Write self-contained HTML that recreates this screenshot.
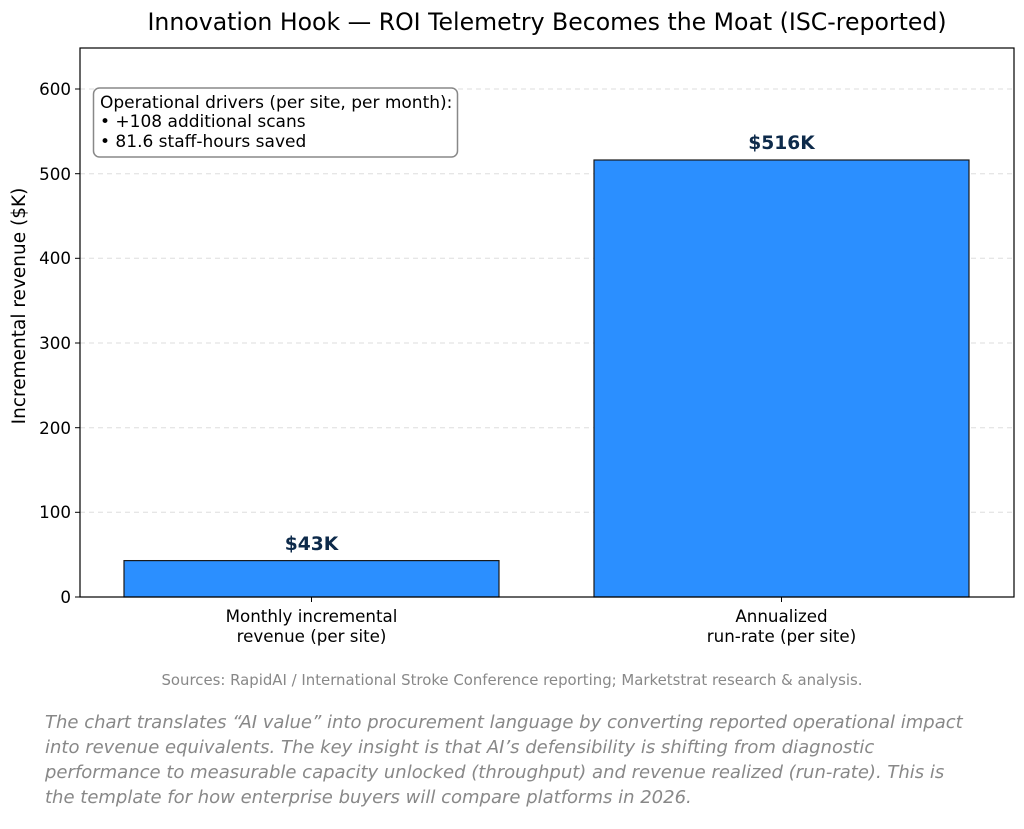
<!DOCTYPE html>
<html><head><meta charset="utf-8"><style>
body{margin:0;background:#fff;}
svg text{font-family:"DejaVu Sans","Liberation Sans",sans-serif;}
</style></head><body>
<svg width="1024" height="824" viewBox="0 0 1024 824" xmlns="http://www.w3.org/2000/svg">
<rect width="1024" height="824" fill="#fff"/>
<text x="547" y="30" font-size="23.6" text-anchor="middle" fill="#000">Innovation Hook — ROI Telemetry Becomes the Moat (ISC-reported)</text>
<g stroke="#ddd" stroke-dasharray="5,4" stroke-width="1">
<line x1="80" x2="1014" y1="512.3" y2="512.3"/>
<line x1="80" x2="1014" y1="427.7" y2="427.7"/>
<line x1="80" x2="1014" y1="343" y2="343"/>
<line x1="80" x2="1014" y1="258.3" y2="258.3"/>
<line x1="80" x2="1014" y1="173.7" y2="173.7"/>
<line x1="80" x2="1014" y1="89" y2="89"/>
</g>
<rect x="124" y="560.6" width="375" height="36.4" fill="#2b8fff" stroke="#1a1a1a" stroke-width="1.2"/>
<rect x="594" y="160" width="375" height="437" fill="#2b8fff" stroke="#1a1a1a" stroke-width="1.2"/>
<text x="311.5" y="550" font-size="18.7" font-weight="bold" text-anchor="middle" fill="#0d2a4a">$43K</text>
<text x="781.5" y="149" font-size="18.7" font-weight="bold" text-anchor="middle" fill="#0d2a4a">$516K</text>
<rect x="80" y="48" width="934" height="549" fill="none" stroke="#000" stroke-width="1.2"/>
<g font-size="16.7" text-anchor="end" fill="#000">
<text x="71" y="603">0</text><text x="71" y="518">100</text><text x="71" y="434">200</text>
<text x="71" y="349">300</text><text x="71" y="264">400</text><text x="71" y="180">500</text><text x="71" y="95">600</text>
</g>
<g stroke="#000" stroke-width="1">
<line x1="75" x2="80" y1="597" y2="597"/><line x1="75" x2="80" y1="512.3" y2="512.3"/><line x1="75" x2="80" y1="427.7" y2="427.7"/>
<line x1="75" x2="80" y1="343" y2="343"/><line x1="75" x2="80" y1="258.3" y2="258.3"/><line x1="75" x2="80" y1="173.7" y2="173.7"/><line x1="75" x2="80" y1="89" y2="89"/>
<line x1="311.5" x2="311.5" y1="597" y2="602"/><line x1="781.5" x2="781.5" y1="597" y2="602"/>
</g>
<text transform="translate(25,306) rotate(-90)" font-size="18.5" text-anchor="middle" fill="#000">Incremental revenue ($K)</text>
<g font-size="16.7" text-anchor="middle" fill="#000">
<text x="311.5" y="622">Monthly incremental</text><text x="311.5" y="642">revenue (per site)</text>
<text x="781.5" y="622">Annualized</text><text x="781.5" y="642">run-rate (per site)</text>
</g>
<rect x="93.5" y="88" width="364" height="69" rx="6" fill="#fff" stroke="#888" stroke-width="1.5"/>
<g font-size="17" fill="#000">
<text x="100" y="108">Operational drivers (per site, per month):</text>
<text x="100" y="127">• +108 additional scans</text>
<text x="100" y="147">• 81.6 staff-hours saved</text>
</g>
<text x="512" y="685" font-size="14.9" text-anchor="middle" fill="#888">Sources: RapidAI / International Stroke Conference reporting; Marketstrat research &amp; analysis.</text>
<g font-size="18" font-style="italic" fill="#888">
<text x="45" y="728">The chart translates “AI value” into procurement language by converting reported operational impact</text>
<text x="45" y="753">into revenue equivalents. The key insight is that AI’s defensibility is shifting from diagnostic</text>
<text x="45" y="778">performance to measurable capacity unlocked (throughput) and revenue realized (run-rate). This is</text>
<text x="45" y="803">the template for how enterprise buyers will compare platforms in 2026.</text>
</g>
</svg>
</body></html>
